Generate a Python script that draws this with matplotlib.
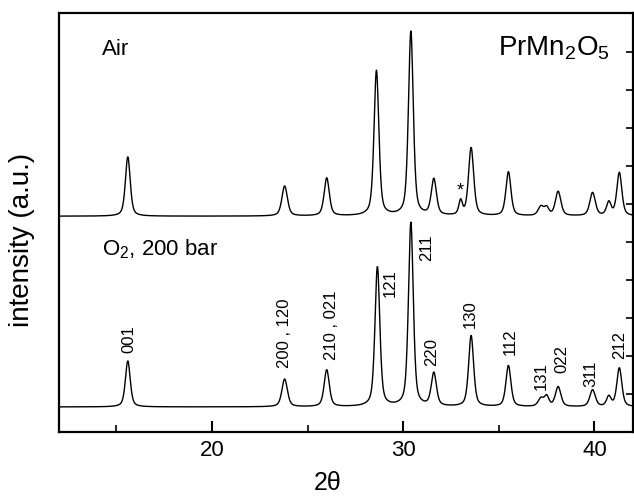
import numpy as np
import matplotlib
matplotlib.use('Agg')
import matplotlib.pyplot as plt
from matplotlib.ticker import MultipleLocator

plt.rcParams['font.family'] = ['Liberation Sans', 'DejaVu Sans']
plt.rcParams['mathtext.fontset'] = 'custom'
plt.rcParams['mathtext.rm'] = 'Liberation Sans'
plt.rcParams['mathtext.it'] = 'Liberation Sans:italic'

# ── Peak lists (2theta, peak top, FWHM) ──────────────────────────────────────
air_base = 5.68
air_pos = [15.6, 23.8, 26.0, 28.6, 30.4, 31.6, 33.0, 33.55, 35.5, 37.2, 37.5, 38.1, 39.9, 40.75, 41.3]
air_top = [7.24, 6.47, 6.68, 9.50, 10.53, 6.63, 6.05, 7.47, 6.84, 5.92, 5.88, 6.32, 6.29, 6.03, 6.82]
air_fwhm = [0.30, 0.34, 0.32, 0.30, 0.30, 0.32, 0.22, 0.32, 0.31, 0.34, 0.28, 0.34, 0.34, 0.28, 0.31]

o2_base = 0.66
o2_pos = [15.6, 23.8, 26.0, 28.65, 30.4, 31.6, 33.55, 35.5, 37.2, 37.5, 38.1, 39.9, 40.75, 41.3]
o2_top = [1.87, 1.39, 1.63, 4.34, 5.50, 1.53, 2.53, 1.74, 0.87, 0.92, 1.18, 1.10, 0.92, 1.68]
o2_fwhm = [0.30, 0.34, 0.32, 0.30, 0.30, 0.32, 0.31, 0.31, 0.34, 0.28, 0.34, 0.34, 0.28, 0.31]

# Miller index labels (x, bottom of text)
hkl_text = ['001', '200 , 120', '210 , 021', '121', '211', '220', '130', '112', '131', '022', '311', '212']
hkl_x = [15.65, 23.8, 26.25, 29.3, 31.2, 31.5, 33.5, 35.6, 37.2, 38.3, 39.8, 41.3]
hkl_y = [2.08, 1.68, 1.89, 3.55, 4.50, 1.74, 2.74, 2.03, 1.10, 1.55, 1.18, 1.92]


def pattern(tt, base, pos, top, fwhm):
    y = np.full_like(tt, base)
    for p, h, w in zip(pos, top, fwhm):
        g = np.exp(-4 * np.log(2) * ((tt - p) / w) ** 2)
        lor = 1.0 / (1 + 4 * ((tt - p) / w) ** 2)
        y += (h - base) * (0.5 * g + 0.5 * lor)
    return y


tt = np.arange(12.0, 42.0, 0.02)

fig = plt.figure(figsize=(6.34, 4.96), dpi=100)
ax = fig.add_axes([0.093, 0.129, 0.905, 0.845])

ax.plot(tt, pattern(tt, air_base, air_pos, air_top, air_fwhm), color='black', lw=1.0)
ax.plot(tt, pattern(tt, o2_base, o2_pos, o2_top, o2_fwhm), color='black', lw=1.0)

for t, x, y in zip(hkl_text, hkl_x, hkl_y):
    ax.text(x, y, t, rotation=90, ha='center', va='bottom', fontsize=12)

ax.text(33.0, 6.34, '*', ha='center', va='center', fontsize=13)
ax.text(14.26, 9.92, 'Air', fontsize=16, va='baseline')
ax.text(14.26, 4.66, r'O$_\mathrm{2}$, 200 bar', fontsize=16, va='baseline')
ax.text(34.95, 9.92, r'PrMn$_\mathrm{2}$O$_\mathrm{5}$', fontsize=20, va='baseline')

ax.set_xlim(12, 42)
ax.set_ylim(0, 11.03)
ax.xaxis.set_major_locator(MultipleLocator(10))
ax.xaxis.set_minor_locator(MultipleLocator(5))
ax.set_yticks(np.arange(1, 11))
ax.yaxis.tick_right()
ax.tick_params(axis='y', direction='in', length=5, width=1.2, labelright=False)
ax.tick_params(axis='x', which='major', direction='in', length=8, width=1.5, labelsize=16, pad=6)
ax.tick_params(axis='x', which='minor', direction='in', length=5, width=1.2)
for s in ax.spines.values():
    s.set_linewidth(1.6)

fig.text(0.035, 0.516, 'intensity (a.u.)', rotation=90, ha='center', va='center', fontsize=20)
fig.text(0.517, 0.026, '2θ', ha='center', va='center', fontsize=18)

fig.savefig('out.png', dpi=100)
